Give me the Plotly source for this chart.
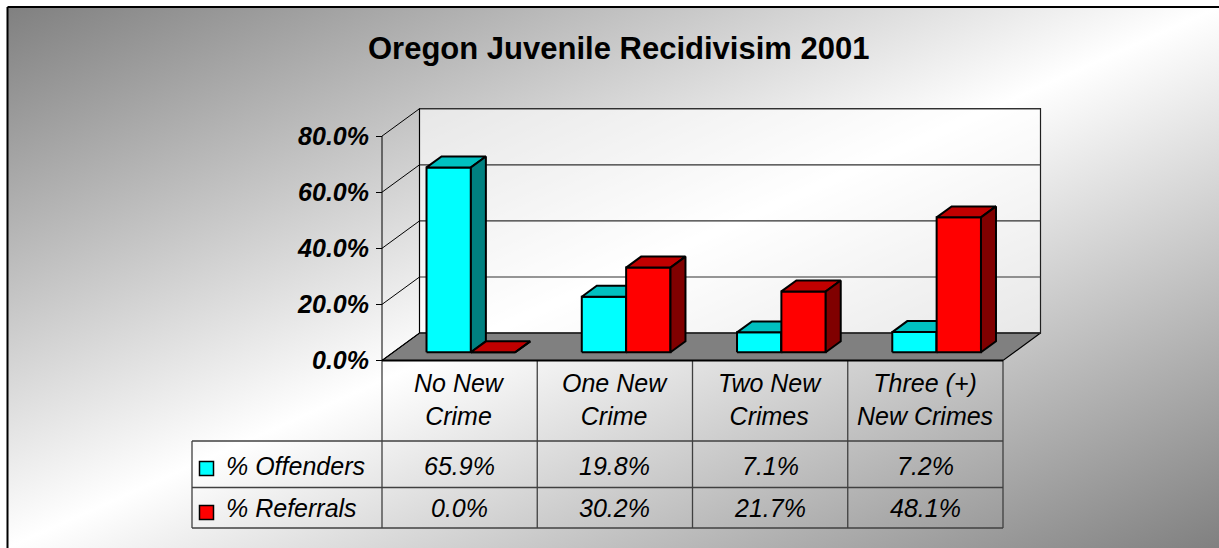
import base64
import plotly.graph_objects as go

# ---------------- data ----------------
categories = ["No New<br>Crime", "One New<br>Crime", "Two New<br>Crimes", "Three (+)<br>New Crimes"]
series_names = ["% Offenders", "% Referrals"]
offenders = [0.659, 0.198, 0.071, 0.072]
referrals = [0.000, 0.302, 0.217, 0.481]
y_ticks = [0.0, 0.2, 0.4, 0.6, 0.8]
title_text = "Oregon Juvenile Recidivisim 2001"

# ---------------- styling / geometry ----------------
W, H = 1219, 548
X_PX = 155.25          # px per category
Y_PX = 280.5           # px per unit (100 %)
X0_PX = 382.0          # px of category -0.5 on front plane
Y0_PX = 360.5          # px of value 0 on front plane
DX = 37.5 / X_PX       # full depth offset in x (data units)
DY = 27.4 / Y_PX       # full depth offset in y (data units)
D0, D1 = 0.3, 0.7      # bar depth range
BAR_W = 1 / 3.5        # gap width 150 %
FONT = "Liberation Sans, Arial, sans-serif"

face_cols = [
    dict(front="#00FFFF", top="#00C0C0", side="#008080"),
    dict(front="#FF0000", top="#C00000", side="#800000"),
]


def px2x(px):
    return -0.5 + (px - X0_PX) / X_PX


def py2y(py):
    return (Y0_PX - py) / Y_PX


def proj(x, v, d):
    return x + d * DX, v + d * DY


def poly(points):
    xs = [p[0] for p in points] + [points[0][0]]
    ys = [p[1] for p in points] + [points[0][1]]
    return xs, ys


fig = go.Figure()


def add_poly(points, fill, lw=1.5, lc="black"):
    xs, ys = poly(points)
    fig.add_trace(go.Scatter(x=xs, y=ys, mode="lines", fill="toself", fillcolor=fill,
                             line=dict(color=lc, width=lw), hoverinfo="skip", showlegend=False))


def add_line(xs, ys, color="black", width=1.0):
    fig.add_trace(go.Scatter(x=xs, y=ys, mode="lines", line=dict(color=color, width=width),
                             hoverinfo="skip", showlegend=False))


n = len(categories)
xl, xr = -0.5, n - 0.5
vmax = y_ticks[-1]

# back wall (light overlay)
add_poly([proj(xl, 0, 1), proj(xr, 0, 1), proj(xr, vmax, 1), proj(xl, vmax, 1)],
         "rgba(255,255,255,0.6)", lw=1.2, lc="#202020")
# floor
add_poly([proj(xl, 0, 0), proj(xr, 0, 0), proj(xr, 0, 1), proj(xl, 0, 1)], "#808080", lw=1.2)

# gridlines: side diagonals + back wall lines
for v in y_ticks:
    a = proj(xl, v, 0)
    b = proj(xl, v, 1)
    c = proj(xr, v, 1)
    add_line([a[0], b[0]], [a[1], b[1]], color="black", width=1)
    add_line([b[0], c[0]], [b[1], c[1]], color="#303030", width=1.2)
# left back edge
b0, b1 = proj(xl, 0, 1), proj(xl, vmax, 1)
add_line([b0[0], b1[0]], [b0[1], b1[1]], color="black", width=1)
# front vertical axis line
add_line([xl, xl], [0, vmax], color="black", width=1)

# bars
for i in range(n):
    for s, vals in enumerate([offenders, referrals]):
        v = vals[i]
        x0 = i - BAR_W + s * BAR_W
        x1 = x0 + BAR_W
        cols = face_cols[s]
        add_poly([proj(x0, 0, D0), proj(x1, 0, D0), proj(x1, v, D0), proj(x0, v, D0)], cols["front"], lw=2)
        add_poly([proj(x0, v, D0), proj(x1, v, D0), proj(x1, v, D1), proj(x0, v, D1)], cols["top"], lw=2)
        add_poly([proj(x1, 0, D0), proj(x1, 0, D1), proj(x1, v, D1), proj(x1, v, D0)], cols["side"], lw=2)

# ---------------- data table ----------------
row_lines = [441, 487.5, 528]
t_left = px2x(192)
grid_c = "#404040"
for py in row_lines:
    add_line([t_left, xr], [py2y(py), py2y(py)], color=grid_c, width=1.3)
for k in range(n + 1):
    xx = xl + k
    add_line([xx, xx], [0, py2y(528)], color=grid_c, width=1.3)
add_line([t_left, t_left], [py2y(441), py2y(528)], color=grid_c, width=1.3)
# thick front floor edge
add_line([xl, xr], [0, 0], color="black", width=2)

# legend keys
fig.add_trace(go.Scatter(x=[px2x(206.5), px2x(206.5)], y=[py2y(468.5), py2y(512.5)], mode="markers",
                         marker=dict(symbol="square", size=14, color=[c["front"] for c in face_cols],
                                     line=dict(color="black", width=1.5)),
                         hoverinfo="skip", showlegend=False))

annotations = []
for i, cat in enumerate(categories):
    annotations.append(dict(x=i, y=py2y(399), xref="x", yref="y", text=f"<i>{cat}</i>", showarrow=False,
                            font=dict(family=FONT, size=25, color="black"), xanchor="center", yanchor="middle"))
row_y = [466, 508]
for r, vals in enumerate([offenders, referrals]):
    annotations.append(dict(x=px2x(224), y=py2y(row_y[r]), xref="x", yref="y",
                            text=f"<i>{series_names[r]}</i>", showarrow=False,
                            font=dict(family=FONT, size=25, color="black"), xanchor="left", yanchor="middle"))
    for i, v in enumerate(vals):
        annotations.append(dict(x=i, y=py2y(row_y[r]), xref="x", yref="y", text=f"<i>{v:.1%}</i>",
                                showarrow=False, font=dict(family=FONT, size=25, color="black"),
                                xanchor="center", yanchor="middle"))
annotations.append(dict(x=618 / W, y=1 - 48.5 / H, xref="paper", yref="paper", text=f"<b>{title_text}</b>",
                        showarrow=False, font=dict(family=FONT, size=31, color="black"),
                        xanchor="center", yanchor="middle"))

# background gradient
svg = ('<svg xmlns="http://www.w3.org/2000/svg" width="1212" height="541" viewBox="0 0 1212 541" '
       'preserveAspectRatio="none"><defs><linearGradient id="g" x1="0" y1="0" x2="1" y2="1">'
       '<stop offset="0" stop-color="#808080"/><stop offset="0.5" stop-color="#ffffff"/>'
       '<stop offset="1" stop-color="#808080"/></linearGradient></defs>'
       '<rect width="1212" height="541" fill="url(#g)"/></svg>')
src = "data:image/svg+xml;base64," + base64.b64encode(svg.encode()).decode()

fig.update_layout(
    width=W, height=H, margin=dict(l=0, r=0, t=0, b=0),
    paper_bgcolor="white", plot_bgcolor="rgba(0,0,0,0)",
    showlegend=False,
    xaxis=dict(range=[px2x(0), px2x(W)], visible=False, fixedrange=True),
    yaxis=dict(range=[py2y(H), py2y(0)], fixedrange=True, showgrid=False, zeroline=False, showline=False,
               anchor="free", position=X0_PX / W, side="left",
               tickvals=y_ticks, ticktext=[f"<b><i>{t:.1%}</i></b>" for t in y_ticks],
               ticks="outside", ticklen=6, tickcolor="black", tickwidth=1, ticklabelstandoff=2,
               tickfont=dict(family=FONT, size=25, color="black")),
    annotations=annotations,
    images=[dict(source=src, xref="paper", yref="paper", x=7 / W, y=1 - 7 / H, sizex=1212 / W, sizey=541 / H,
                 xanchor="left", yanchor="top", sizing="stretch", layer="below")],
    shapes=[
        dict(type="line", xref="paper", yref="paper", x0=7.5 / W, x1=7.5 / W, y0=0, y1=1 - 7 / H,
             line=dict(color="black", width=2)),
        dict(type="line", xref="paper", yref="paper", x0=7.5 / W, x1=1, y0=1 - 7 / H, y1=1 - 7 / H,
             line=dict(color="black", width=2)),
    ],
)

fig.write_html("out.html", config={"displayModeBar": False, "staticPlot": True},
               post_script="document.body.style.margin='0';")
